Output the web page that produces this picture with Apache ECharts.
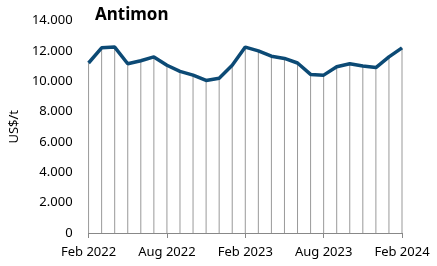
<!DOCTYPE html>
<html>
<head>
<meta charset="utf-8">
<script src="https://cdn.jsdelivr.net/npm/echarts@6/dist/echarts.min.js"></script>
<style>
  html, body { margin: 0; padding: 0; background: #fff; }
  #chart { width: 437px; height: 266px; }
</style>
</head>
<body>
<div id="chart"></div>
<script>
// monthly antimony price, US$/t, Feb 2022 .. Feb 2024
const months = [
  'Feb 2022', 'Mar 2022', 'Apr 2022', 'May 2022', 'Jun 2022', 'Jul 2022',
  'Aug 2022', 'Sep 2022', 'Oct 2022', 'Nov 2022', 'Dec 2022', 'Jan 2023',
  'Feb 2023', 'Mar 2023', 'Apr 2023', 'May 2023', 'Jun 2023', 'Jul 2023',
  'Aug 2023', 'Sep 2023', 'Oct 2023', 'Nov 2023', 'Dec 2023', 'Jan 2024',
  'Feb 2024'
]
const prices = [
  11200, 12200, 12250, 11150, 11350, 11600, 11050, 10650, 10400, 10050,
  10200, 11050, 12250, 12000, 11650, 11500, 11200, 10450, 10400, 10950,
  11150, 11000, 10900, 11600, 12200
]
const yTicks = [0, 2000, 4000, 6000, 8000, 10000, 12000, 14000]

const fmt = v => v === 0 ? '0' : String(v).replace(/\B(?=(\d{3})+(?!\d))/g, '.')
const font = '"Noto Sans", sans-serif'

const chart = echarts.init(document.getElementById('chart'))
chart.setOption({
  animation: false,
  title: {
    text: 'Antimon',
    left: 95,
    top: 7,
    padding: 0,
    textStyle: { fontFamily: font, fontSize: 17, fontWeight: 'bold', color: '#000' }
  },
  grid: { left: 82, right: 35, top: 20.5, bottom: 33, containLabel: false },
  xAxis: {
    type: 'category',
    data: months,
    boundaryGap: false,
    axisLine: { lineStyle: { color: '#888', width: 1 } },
    axisTick: { interval: 5, length: 5, lineStyle: { color: '#888' } },
    axisLabel: { interval: 5, margin: 13, color: '#000', fontFamily: font, fontSize: 13 },
    splitLine: { show: false }
  },
  yAxis: {
    type: 'value',
    min: yTicks[0],
    max: yTicks[yTicks.length - 1],
    interval: 2000,
    name: 'US$/t',
    nameLocation: 'middle',
    nameGap: 66,
    nameTextStyle: { fontFamily: font, fontSize: 13, color: '#000' },
    axisLine: { show: false },
    axisTick: { show: false },
    splitLine: { show: false },
    axisLabel: { formatter: fmt, margin: 16, color: '#000', fontFamily: font, fontSize: 13 }
  },
  series: [
    {
      type: 'bar',
      data: prices,
      barWidth: 1,
      itemStyle: { color: '#999' },
      silent: true
    },
    {
      type: 'line',
      data: prices,
      symbol: 'none',
      lineStyle: { color: '#0c4a75', width: 3.5 },
      z: 5
    }
  ]
})
</script>
</body>
</html>
